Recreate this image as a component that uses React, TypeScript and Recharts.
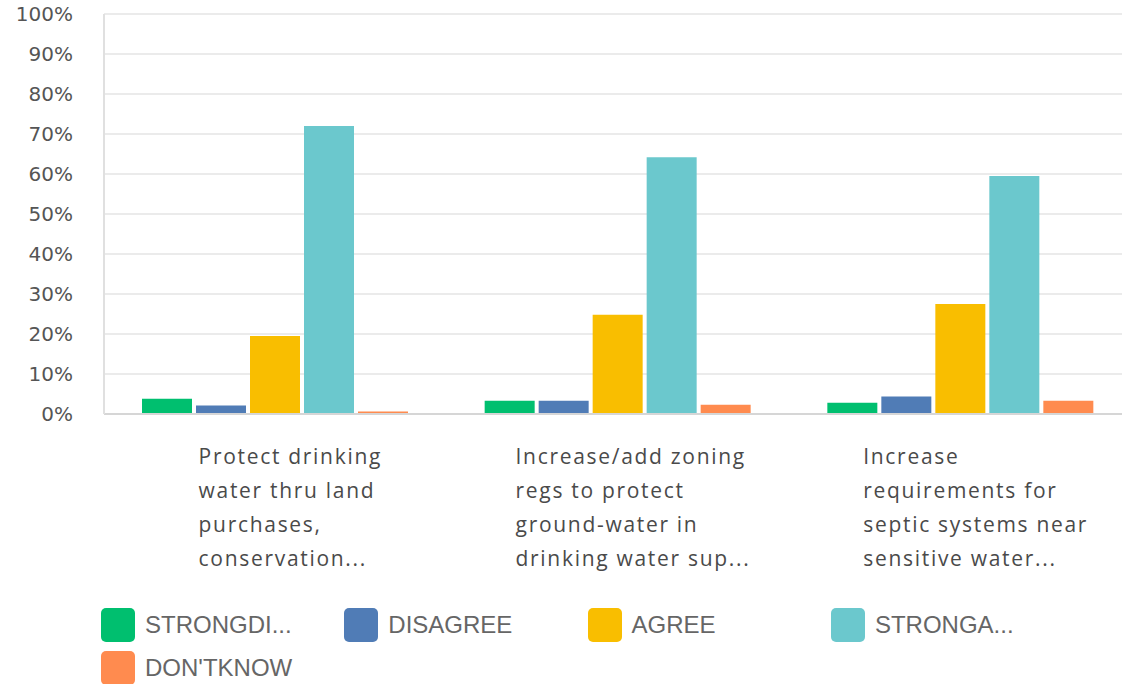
import React from 'react';
import { BarChart, Bar, XAxis, YAxis, CartesianGrid, Legend } from 'recharts';

const categories = [
  'Protect drinking water thru land purchases, conservation...',
  'Increase/add zoning regs to protect ground-water in drinking water sup...',
  'Increase requirements for septic systems near sensitive water...',
];

const categoryLines = [
  ['Protect drinking', 'water thru land', 'purchases,', 'conservation...'],
  ['Increase/add zoning', 'regs to protect', 'ground-water in', 'drinking water sup...'],
  ['Increase', 'requirements for', 'septic systems near', 'sensitive water...'],
];

const strongDisagree = [3.8, 3.3, 2.8];
const disagree = [2.1, 3.3, 4.4];
const agree = [19.5, 24.8, 27.5];
const strongAgree = [72.0, 64.2, 59.5];
const dontKnow = [0.6, 2.3, 3.3];

const yTicks = [0, 10, 20, 30, 40, 50, 60, 70, 80, 90, 100];

const series = [
  { key: 'strongDisagree', name: 'STRONGDI...', color: '#00BF6F' },
  { key: 'disagree', name: 'DISAGREE', color: '#507CB6' },
  { key: 'agree', name: 'AGREE', color: '#F9BE00' },
  { key: 'strongAgree', name: 'STRONGA...', color: '#6BC8CD' },
  { key: 'dontKnow', name: "DON'TKNOW", color: '#FF8B4F' },
];

const data = categories.map((name, i) => ({
  name,
  strongDisagree: strongDisagree[i],
  disagree: disagree[i],
  agree: agree[i],
  strongAgree: strongAgree[i],
  dontKnow: dontKnow[i],
}));

const FONT = "'Open Sans', sans-serif";
const TICK_FONT_SIZE = 21;
const TICK_SPACING = 1.7;

let ctx: CanvasRenderingContext2D | null = null;
function measure(text: string) {
  if (!ctx) {
    ctx = document.createElement('canvas').getContext('2d');
  }
  if (!ctx) return text.length * 11;
  ctx.font = `${TICK_FONT_SIZE}px 'Open Sans'`;
  return ctx.measureText(text).width + text.length * TICK_SPACING;
}

function CategoryTick(props: any) {
  const { x, y, payload } = props;
  const lines = categoryLines[payload.index] || [];
  const maxW = Math.max(...lines.map(measure));
  const left = x - maxW / 2 + 15;
  return (
    <g>
      {lines.map((l, i) => (
        <text
          key={i}
          x={left}
          y={y + 35 + i * 34}
          dy="0.35em"
          textAnchor="start"
          fill="#4a4a4a"
          fontSize={TICK_FONT_SIZE}
          fontFamily={FONT}
          letterSpacing={TICK_SPACING}
        >
          {l}
        </text>
      ))}
    </g>
  );
}

function LegendContent() {
  return (
    <div style={{ height: 84, position: 'relative', width: 1122 }}>
      {series.map((s, i) => {
        const col = i % 4;
        const row = Math.floor(i / 4);
        return (
          <div
            key={s.key}
            style={{
              position: 'absolute',
              left: 101 + col * 243.3,
              top: 8 + row * 43,
              display: 'flex',
              alignItems: 'center',
              height: 34,
            }}
          >
            <div style={{ width: 34, height: 34, borderRadius: 5, background: s.color }} />
            <span
              style={{
                marginLeft: 10,
                fontFamily: "'Liberation Sans', Arial, sans-serif",
                fontSize: 24,
                color: '#666',
                whiteSpace: 'nowrap',
              }}
            >
              {s.name}
            </span>
          </div>
        );
      })}
    </div>
  );
}

export default function App() {
  return (
    <div style={{ position: 'absolute', left: 0, top: 0, width: 1122, height: 684, overflow: 'hidden', background: '#fff' }}>
      <BarChart
        width={1132}
        height={684}
        data={data}
        margin={{ top: 14, right: 0, bottom: 0, left: 0 }}
        barSize={50}
        barGap={4}
      >
        <CartesianGrid vertical={false} stroke="#ebebeb" strokeWidth={2} />
        <XAxis
          dataKey="name"
          height={186}
          axisLine={{ stroke: '#d6d6d6', strokeWidth: 2 }}
          tickLine={false}
          interval={0}
          tick={<CategoryTick />}
        />
        <YAxis
          width={104}
          domain={[0, 100]}
          ticks={yTicks}
          tickFormatter={(v: number) => `${v}%`}
          axisLine={{ stroke: '#e0e0e0', strokeWidth: 2 }}
          tickLine={false}
          tickSize={0}
          tickMargin={31}
          tick={{ fill: '#555', fontSize: 20, fontFamily: "'DejaVu Sans', sans-serif" }}
        />
        <Legend
          verticalAlign="bottom"
          height={84}
          content={<LegendContent />}
          wrapperStyle={{ left: 0, width: 1122 }}
        />
        {series.map((s) => (
          <Bar key={s.key} dataKey={s.key} name={s.name} fill={s.color} isAnimationActive={false} />
        ))}
      </BarChart>
    </div>
  );
}
